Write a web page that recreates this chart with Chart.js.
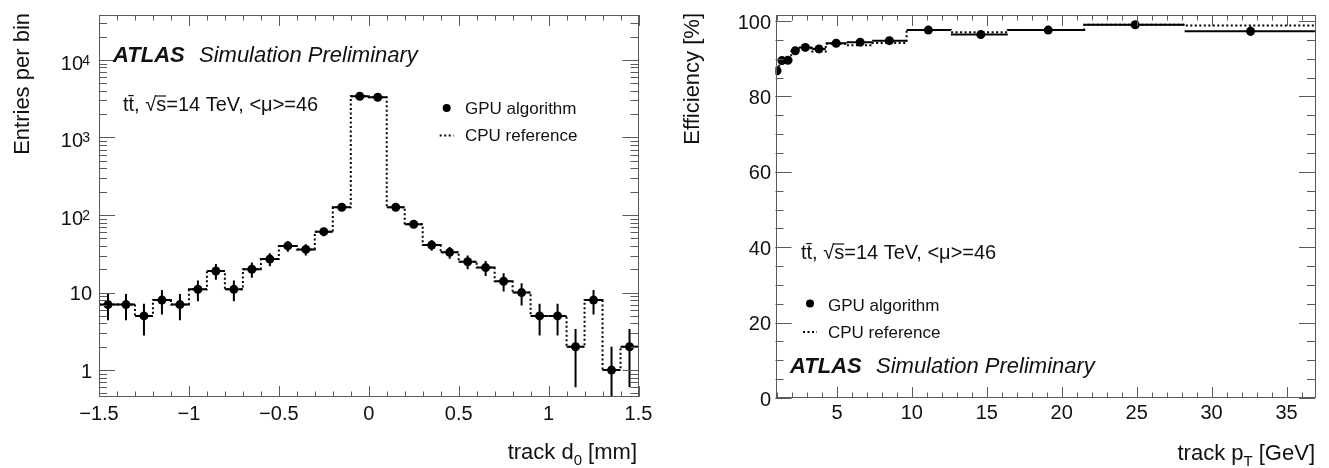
<!DOCTYPE html>
<html>
<head>
<meta charset="utf-8">
<script src="https://cdn.jsdelivr.net/npm/chart.js@4.4.0/dist/chart.umd.min.js"></script>
<style>
body { margin: 0; background: #fff; }
#wrap { position: relative; width: 1329px; height: 468px; }
canvas { position: absolute; top: 0; }
</style>
</head>
<body>
<div id="wrap">
  <canvas id="d0" width="664" height="468" style="left:0;width:664px;height:468px"></canvas>
  <canvas id="eff" width="665" height="468" style="left:664px;width:665px;height:468px"></canvas>
</div>
<script>
// ---- left: track d0, 30 bins of 0.1 mm ----
const d0Edges = [-1.5, -1.4, -1.3, -1.2, -1.1, -1.0, -0.9, -0.8, -0.7, -0.6, -0.5, -0.4, -0.3, -0.2, -0.1,
                 0, 0.1, 0.2, 0.3, 0.4, 0.5, 0.6, 0.7, 0.8, 0.9, 1.0, 1.1, 1.2, 1.3, 1.4, 1.5];
const d0Gpu = [7, 7, 5, 8, 7, 11, 19, 11, 20, 27, 40, 36, 61, 126, 3400,
               3300, 126, 76, 41, 33, 25, 21, 14, 10, 5, 5, 2, 8, 1, 2];
const d0GpuErr = [2.6, 2.6, 2.2, 2.8, 2.6, 3.3, 4.4, 3.3, 4.5, 5.2, 6.3, 6.0, 7.8, 11.2, 58,
                  57, 11.2, 8.7, 6.4, 5.7, 5.0, 4.6, 3.7, 3.2, 2.2, 2.2, 1.4, 2.8, 1.0, 1.4];
const d0Cpu = [7, 7, 5, 8, 7, 11, 19, 11, 20, 27, 40, 36, 61, 126, 3400,
               3300, 126, 76, 41, 33, 25, 21, 14, 10, 5, 5, 2, 8, 1, 2];
const d0Ticks = [-1.5, -1, -0.5, 0, 0.5, 1, 1.5];
const d0TickLabels = ['\u22121.5', '\u22121', '\u22120.5', '0', '0.5', '1', '1.5'];
const entriesTicks = [1, 10, 100, 1000, 10000];
const entriesTickLabels = [['1', ''], ['10', ''], ['10', '2'], ['10', '3'], ['10', '4']];

// ---- right: efficiency vs track pT ----
const ptEdges = [0.9, 1.15, 1.5, 1.95, 2.45, 3.35, 4.25, 5.65, 7.35, 9.65, 12.6, 16.4, 21.5, 28.2, 36.9];
const ptCenters = [1.0, 1.33, 1.73, 2.22, 2.89, 3.8, 4.95, 6.55, 8.5, 11.1, 14.6, 19.1, 24.9, 32.6];
const effGpu = [86.8, 89.5, 89.6, 92.1, 93.0, 92.6, 94.1, 94.4, 94.8, 97.6, 96.4, 97.6, 99.0, 97.3];
const effGpuErr = [1.0, 0.7, 0.6, 0.6, 0.5, 0.5, 0.4, 0.4, 0.5, 0.4, 0.6, 0.5, 0.5, 1.3];
const effCpu = [86.5, 89.3, 89.5, 91.9, 92.8, 91.9, 94.0, 93.6, 94.2, 97.6, 97.0, 97.6, 99.0, 98.8];
const ptTicks = [5, 10, 15, 20, 25, 30, 35];
const ptTickLabels = ['5', '10', '15', '20', '25', '30', '35'];
const effTicks = [0, 20, 40, 60, 80, 100];
const effTickLabels = ['0', '20', '40', '60', '80', '100'];

const FONT = '"Liberation Sans", Arial, Helvetica, sans-serif';
const INK = '#111';
const FRAME = '#5a5a5a';

// histogram as step line: one point per lower edge + closing point
function stepData(edges, vals) {
  const pts = vals.map((v, i) => ({ x: edges[i], y: v }));
  pts.push({ x: edges[edges.length - 1], y: vals[vals.length - 1] });
  return pts;
}

function centersOf(edges) {
  return edges.slice(0, -1).map((e, i) => (e + edges[i + 1]) / 2);
}

function errorBars(edges, centers, vals, errs) {
  return {
    id: 'errorBars',
    beforeDatasetsDraw(chart) {
      const { ctx, chartArea: a, scales: { x, y } } = chart;
      ctx.save();
      ctx.beginPath();
      ctx.rect(a.left, a.top, a.right - a.left, a.bottom - a.top);
      ctx.clip();
      ctx.strokeStyle = '#000';
      ctx.lineWidth = 2;
      vals.forEach((v, i) => {
        const py = y.getPixelForValue(v);
        const px = x.getPixelForValue(centers[i]);
        const lo = Math.max(v - errs[i], y.min);
        ctx.beginPath();
        ctx.moveTo(x.getPixelForValue(edges[i]), py);
        ctx.lineTo(x.getPixelForValue(edges[i + 1]), py);
        ctx.moveTo(px, y.getPixelForValue(lo));
        ctx.lineTo(px, y.getPixelForValue(v + errs[i]));
        ctx.stroke();
      });
      ctx.restore();
    }
  };
}

function legendBlock(ctx, mx, my, tx, y1, y2) {
  ctx.fillStyle = '#000';
  ctx.beginPath();
  ctx.arc(mx, my, 4, 0, Math.PI * 2);
  ctx.fill();
  ctx.strokeStyle = '#000';
  ctx.lineWidth = 2;
  ctx.setLineDash([2, 2.5]);
  ctx.beginPath();
  ctx.moveTo(mx - 7, y2 - 5.5);
  ctx.lineTo(mx + 7, y2 - 5.5);
  ctx.stroke();
  ctx.setLineDash([]);
  ctx.fillStyle = INK;
  ctx.font = '17px ' + FONT;
  ctx.textAlign = 'left';
  ctx.fillText('GPU algorithm', tx, y1);
  ctx.fillText('CPU reference', tx, y2);
}

function processLine(ctx, x, y) {
  ctx.fillStyle = INK;
  ctx.font = '20px ' + FONT;
  ctx.textAlign = 'left';
  const txt = 'tt\u0304, \u221As=14 TeV, <\u03BC>=46';
  ctx.fillText(txt, x, y);
  // overline of the square root
  const pre = ctx.measureText('tt\u0304, \u221A').width;
  const sw = ctx.measureText('s').width;
  ctx.strokeStyle = INK;
  ctx.lineWidth = 1.2;
  ctx.beginPath();
  ctx.moveTo(x + pre - 1, y - 15);
  ctx.lineTo(x + pre + sw, y - 15);
  ctx.stroke();
}

function atlasLabel(ctx, x, x2, y) {
  ctx.fillStyle = INK;
  ctx.textAlign = 'left';
  ctx.font = 'italic bold 22px ' + FONT;
  ctx.fillText('ATLAS', x, y);
  ctx.font = 'italic 22px ' + FONT;
  ctx.fillText('Simulation Preliminary', x2, y);
}

function xTitle(ctx, right, y, a, sub, b) {
  ctx.fillStyle = INK;
  ctx.textAlign = 'left';
  ctx.font = '22px ' + FONT;
  const wa = ctx.measureText(a).width, wb = ctx.measureText(b).width;
  ctx.font = '15px ' + FONT;
  const ws = ctx.measureText(sub).width;
  const x0 = right - wa - ws - wb;
  ctx.font = '22px ' + FONT;
  ctx.fillText(a, x0, y);
  ctx.fillText(b, x0 + wa + ws, y);
  ctx.font = '15px ' + FONT;
  ctx.fillText(sub, x0 + wa, y + 6);
}

function yTitle(ctx, x, top, text) {
  ctx.save();
  ctx.fillStyle = INK;
  ctx.font = '22px ' + FONT;
  ctx.translate(x, top);
  ctx.rotate(-Math.PI / 2);
  ctx.textAlign = 'right';
  ctx.fillText(text, 0, 0);
  ctx.restore();
}

// ROOT-like frame: ticks on all four sides pointing inwards
function rootAxes(spec) {
  return {
    id: 'rootAxes',
    afterDraw(chart) {
      const { ctx, chartArea: a, scales: { x, y } } = chart;
      ctx.save();
      ctx.strokeStyle = FRAME;
      ctx.lineWidth = 1;
      ctx.strokeRect(Math.round(a.left) + 0.5, Math.round(a.top) + 0.5,
                     Math.round(a.right - a.left) - 1, Math.round(a.bottom - a.top) - 1);
      ctx.beginPath();
      const xt = (v, len) => {
        const p = Math.round(x.getPixelForValue(v)) + 0.5;
        ctx.moveTo(p, a.bottom); ctx.lineTo(p, a.bottom - len);
        ctx.moveTo(p, a.top); ctx.lineTo(p, a.top + len);
      };
      const yt = (v, len) => {
        const p = Math.round(y.getPixelForValue(v)) + 0.5;
        ctx.moveTo(a.left, p); ctx.lineTo(a.left + len, p);
        ctx.moveTo(a.right, p); ctx.lineTo(a.right - len, p);
      };
      spec.xMinor.forEach(v => xt(v, 5.5));
      spec.xMajor.forEach(v => xt(v, 11));
      spec.yMinor.filter(v => v >= y.min && v <= y.max).forEach(v => yt(v, 8));
      spec.yMajor.forEach(v => yt(v, 16));
      ctx.stroke();

      ctx.fillStyle = INK;
      ctx.font = '20px ' + FONT;
      ctx.textAlign = 'center';
      spec.xMajor.forEach((v, i) => ctx.fillText(spec.xLabels[i], x.getPixelForValue(v), spec.xLabelBase));
      spec.yMajor.forEach((v, i) => {
        const p = y.getPixelForValue(v);
        const lab = spec.yLabels[i];
        ctx.textAlign = 'right';
        if (Array.isArray(lab) && lab[1]) {
          ctx.font = '20px ' + FONT;
          ctx.fillText(lab[0], spec.yLabelRight - 9, p + 10);
          ctx.font = '14px ' + FONT;
          ctx.fillText(lab[1], spec.yLabelRight - 2, p + 5);
        } else {
          ctx.font = '20px ' + FONT;
          ctx.fillText(Array.isArray(lab) ? lab[0] : lab, spec.yLabelRight, p + 7.5);
        }
      });
      spec.extra(ctx);
      ctx.restore();
    }
  };
}

// log minor ticks 2..9 per decade
const d0YMinor = [];
for (let e = -1; e <= 4; e++) for (let m = 2; m <= 9; m++) d0YMinor.push(m * Math.pow(10, e));
const d0XMinor = [];
for (let k = -15; k <= 15; k++) d0XMinor.push(k / 10);
const ptXMinor = [];
for (let k = 1; k <= 36; k++) ptXMinor.push(k);
const effYMinor = [];
for (let k = 0; k <= 100; k += 5) effYMinor.push(k);

const baseOpts = (pad, xs, ys) => ({
  responsive: false,
  animation: false,
  events: [],
  layout: { padding: pad },
  plugins: { legend: { display: false }, tooltip: { enabled: false } },
  scales: { x: Object.assign({ display: false }, xs), y: Object.assign({ display: false }, ys) }
});

new Chart(document.getElementById('d0'), {
  type: 'scatter',
  data: {
    datasets: [
      { type: 'line', data: stepData(d0Edges, d0Cpu), stepped: true, borderColor: '#000',
        borderWidth: 2, borderDash: [2, 2.5], pointRadius: 0, fill: false },
      { type: 'scatter', data: centersOf(d0Edges).map((c, i) => ({ x: c, y: d0Gpu[i] })),
        pointRadius: 4.5, backgroundColor: '#000', borderWidth: 0 }
    ]
  },
  options: baseOpts({ left: 99, right: 25.5, top: 15, bottom: 71 },
    { type: 'linear', min: -1.5, max: 1.5 },
    { type: 'logarithmic', min: 0.45, max: 38000 }),
  plugins: [
    errorBars(d0Edges, centersOf(d0Edges), d0Gpu, d0GpuErr),
    rootAxes({
      xMajor: d0Ticks, xLabels: d0TickLabels, xMinor: d0XMinor, xLabelBase: 420,
      yMajor: entriesTicks, yLabels: entriesTickLabels, yMinor: d0YMinor, yLabelRight: 92,
      extra(ctx) {
        atlasLabel(ctx, 113, 199, 62);
        processLine(ctx, 123, 111);
        legendBlock(ctx, 446.7, 108, 465, 113.5, 141);
        yTitle(ctx, 29, 13, 'Entries per bin');
        xTitle(ctx, 637, 459, 'track d', '0', ' [mm]');
      }
    })
  ]
});

new Chart(document.getElementById('eff'), {
  type: 'scatter',
  data: {
    datasets: [
      { type: 'line', data: stepData(ptEdges, effCpu), stepped: true, borderColor: '#000',
        borderWidth: 2, borderDash: [2, 2.5], pointRadius: 0, fill: false },
      { type: 'scatter', data: ptCenters.map((c, i) => ({ x: c, y: effGpu[i] })),
        pointRadius: 4.5, backgroundColor: '#000', borderWidth: 0 }
    ]
  },
  options: baseOpts({ left: 111.5, right: 14, top: 15, bottom: 70 },
    { type: 'linear', min: 0.9, max: 36.9 },
    { type: 'linear', min: 0, max: 101.6 }),
  plugins: [
    errorBars(ptEdges, ptCenters, effGpu, effGpuErr),
    rootAxes({
      xMajor: ptTicks, xLabels: ptTickLabels, xMinor: ptXMinor, xLabelBase: 419,
      yMajor: effTicks, yLabels: effTickLabels, yMinor: effYMinor, yLabelRight: 107,
      extra(ctx) {
        processLine(ctx, 137, 259);
        legendBlock(ctx, 146, 303.5, 164, 310.5, 337.5);
        atlasLabel(ctx, 126, 212, 373);
        yTitle(ctx, 35, 13, 'Efficiency [%]');
        xTitle(ctx, 651, 460, 'track p', 'T', ' [GeV]');
      }
    })
  ]
});
</script>
</body>
</html>
